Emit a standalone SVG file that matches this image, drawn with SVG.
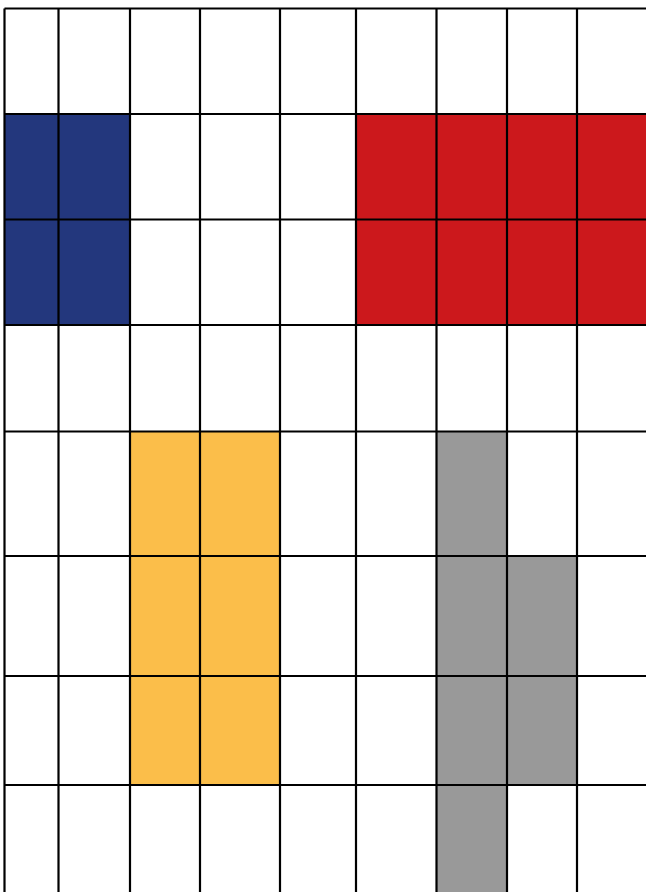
<svg xmlns="http://www.w3.org/2000/svg" width="646" height="892" viewBox="0 0 646 892">
<style>
.g{stroke:#000;stroke-width:2.2;fill:none}
.blue{fill:#23377D}
.red{fill:#CC181C}
.yellow{fill:#FBBE4A}
.gray{fill:#999999}
</style>
<rect width="646" height="892" fill="#fff"/>
<g id="fills">
<rect class="blue" x="4.5" y="114" width="125.5" height="211"/>
<rect class="red" x="356" y="114" width="290" height="211"/>
<rect class="yellow" x="130" y="431.5" width="150" height="353.5"/>
<rect class="gray" x="436.5" y="431.5" width="70.5" height="460.5"/>
<rect class="gray" x="507" y="556" width="70" height="229"/>
</g>
<g id="grid" class="g">
<path d="M4.5 8.5V892M58.5 8.5V892M130 8.5V892M200 8.5V892M280 8.5V892M356 8.5V892M436.5 8.5V892M507 8.5V892M577 8.5V892"/>
<path d="M4.5 8.5H646M4.5 114H646M4.5 219.5H646M4.5 325H646M4.5 431.5H646M4.5 556H646M4.5 676H646M4.5 785H646"/>
</g>
</svg>
